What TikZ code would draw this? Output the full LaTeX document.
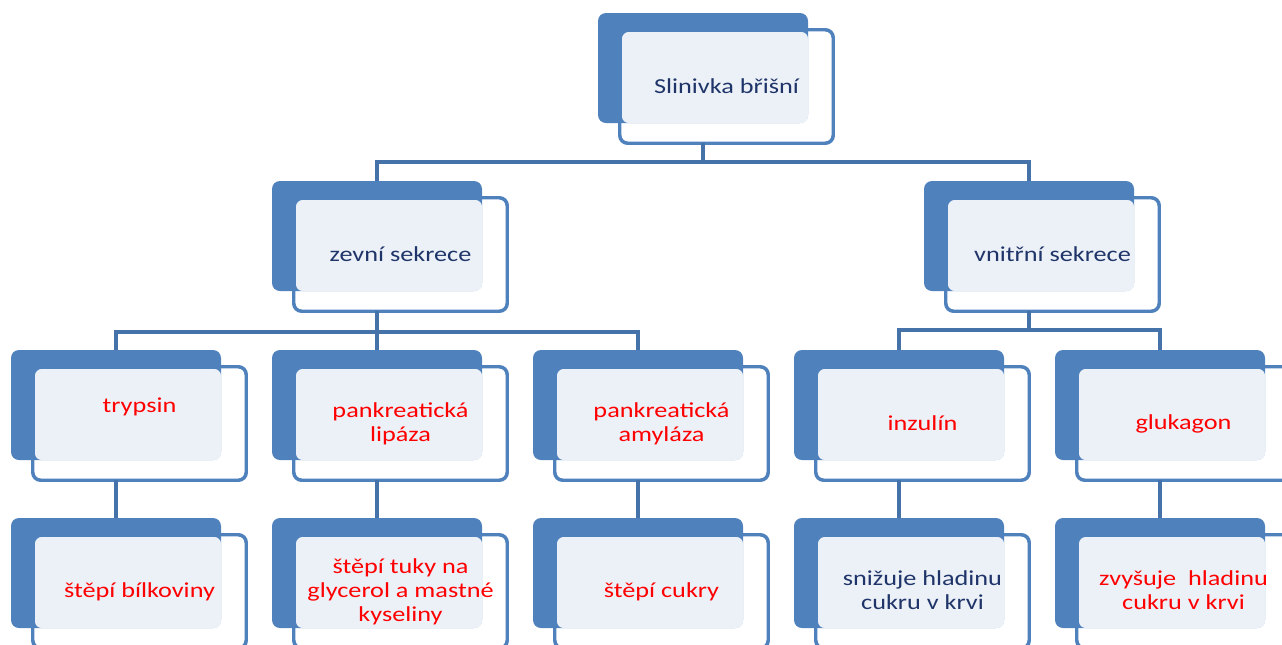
\documentclass[tikz,border=0pt]{standalone}
\usepackage{fontspec}
\setmainfont{Carlito}[FakeStretch=1.23]
\definecolor{boxblue}{HTML}{4F81BD}
\definecolor{connblue}{HTML}{4672AA}
\definecolor{lightfill}{HTML}{ECF1F8}
\definecolor{navy}{HTML}{1F3468}
\definecolor{redtxt}{HTML}{FF0000}
\tikzset{
  frontbox/.style={draw=boxblue, fill=white, line width=2.6pt, rounded corners=6pt,
    minimum width={213.5*0.75pt}, minimum height={113.5*0.75pt}, anchor=north west, inner sep=0pt, outer sep=0pt},
  backbox/.style={fill=boxblue, rounded corners=6pt,
    minimum width={210*0.75pt}, minimum height={110*0.75pt}, anchor=north west, inner sep=0pt, outer sep=0pt},
  fillbox/.style={fill=lightfill, rounded corners=5pt,
    minimum width={186*0.75pt}, minimum height={91*0.75pt}, anchor=north west, inner sep=0pt, outer sep=0pt},
  lbl/.style={font=\fontsize{16pt}{18pt}\selectfont, align=center, inner sep=0pt},
  conn/.style={draw=connblue, line width=3pt}
}
\newcommand\orgbox[6]{%
  \node[frontbox] (#1-f) at (#2+21.75, #3+16.75) {};
  \node[backbox] (#1-b) at (#2, #3) {};
  \node[fillbox] (#1-l) at (#2+24, #3+19) {};
  \node[lbl, text=#5] (#1) at ([yshift=#6]#1-f.center) {#4};
}
\begin{document}
\begin{tikzpicture}[x=0.75pt, y=-0.75pt]
\useasboundingbox (0,0) rectangle (1282,644);
\clip (0,0) rectangle (1282,644);
\fill[white] (0,0) rectangle (1282,644);
% boxes
\orgbox{main}{598}{13}{Slinivka břišní}{navy}{0pt}
\orgbox{zev}{272}{181}{zevní sekrece}{navy}{0pt}
\orgbox{vni}{924}{181}{vnitřní sekrece}{navy}{0pt}
\orgbox{t1}{11}{350}{trypsin}{redtxt}{12.75pt}
\orgbox{t2}{272}{350}{pankreatická\\lipáza}{redtxt}{0pt}
\orgbox{t3}{533}{350}{pankreatická\\amyláza}{redtxt}{0pt}
\orgbox{t4}{794}{350}{inzulín}{redtxt}{0pt}
\orgbox{t5}{1055}{350}{glukagon}{redtxt}{0pt}
\orgbox{b1}{11}{518}{štěpí bílkoviny}{redtxt}{0pt}
\orgbox{b2}{272}{518}{štěpí tuky na\\glycerol a mastné\\kyseliny}{redtxt}{0pt}
\orgbox{b3}{533}{518}{štěpí cukry}{redtxt}{0pt}
\orgbox{b4}{794}{518}{snižuje hladinu\\cukru v krvi}{navy}{0.75pt}
\orgbox{b5}{1055}{518}{zvyšuje\ \ hladinu\\cukru v krvi}{redtxt}{0.75pt}
% connectors
\coordinate (bus0) at (0,162);
\coordinate (bus1) at (0,332);
\coordinate (bus2) at (0,330);
\draw[conn] (main-b.south |- main-f.south) -- (main-b.south |- bus0);
\draw[conn] (zev-b.north) -- (zev-b.north |- bus0) -- (vni-b.north |- bus0) -- (vni-b.north);
\draw[conn] (zev-b.south |- zev-f.south) -- (zev-b.south |- bus1);
\draw[conn] (t1-b.north) -- (t1-b.north |- bus1) -- (t3-b.north |- bus1) -- (t3-b.north);
\draw[conn] (t2-b.north) -- (t2-b.north |- bus1);
\draw[conn] (vni-b.south |- vni-f.south) -- (vni-b.south |- bus2);
\draw[conn] (t4-b.north) -- (t4-b.north |- bus2) -- (t5-b.north |- bus2) -- (t5-b.north);
\draw[conn] (t1-b.south |- t1-f.south) -- (b1-b.north);
\draw[conn] (t2-b.south |- t2-f.south) -- (b2-b.north);
\draw[conn] (t3-b.south |- t3-f.south) -- (b3-b.north);
\draw[conn] (t4-b.south |- t4-f.south) -- (b4-b.north);
\draw[conn] (t5-b.south |- t5-f.south) -- (b5-b.north);
\end{tikzpicture}
\end{document}
